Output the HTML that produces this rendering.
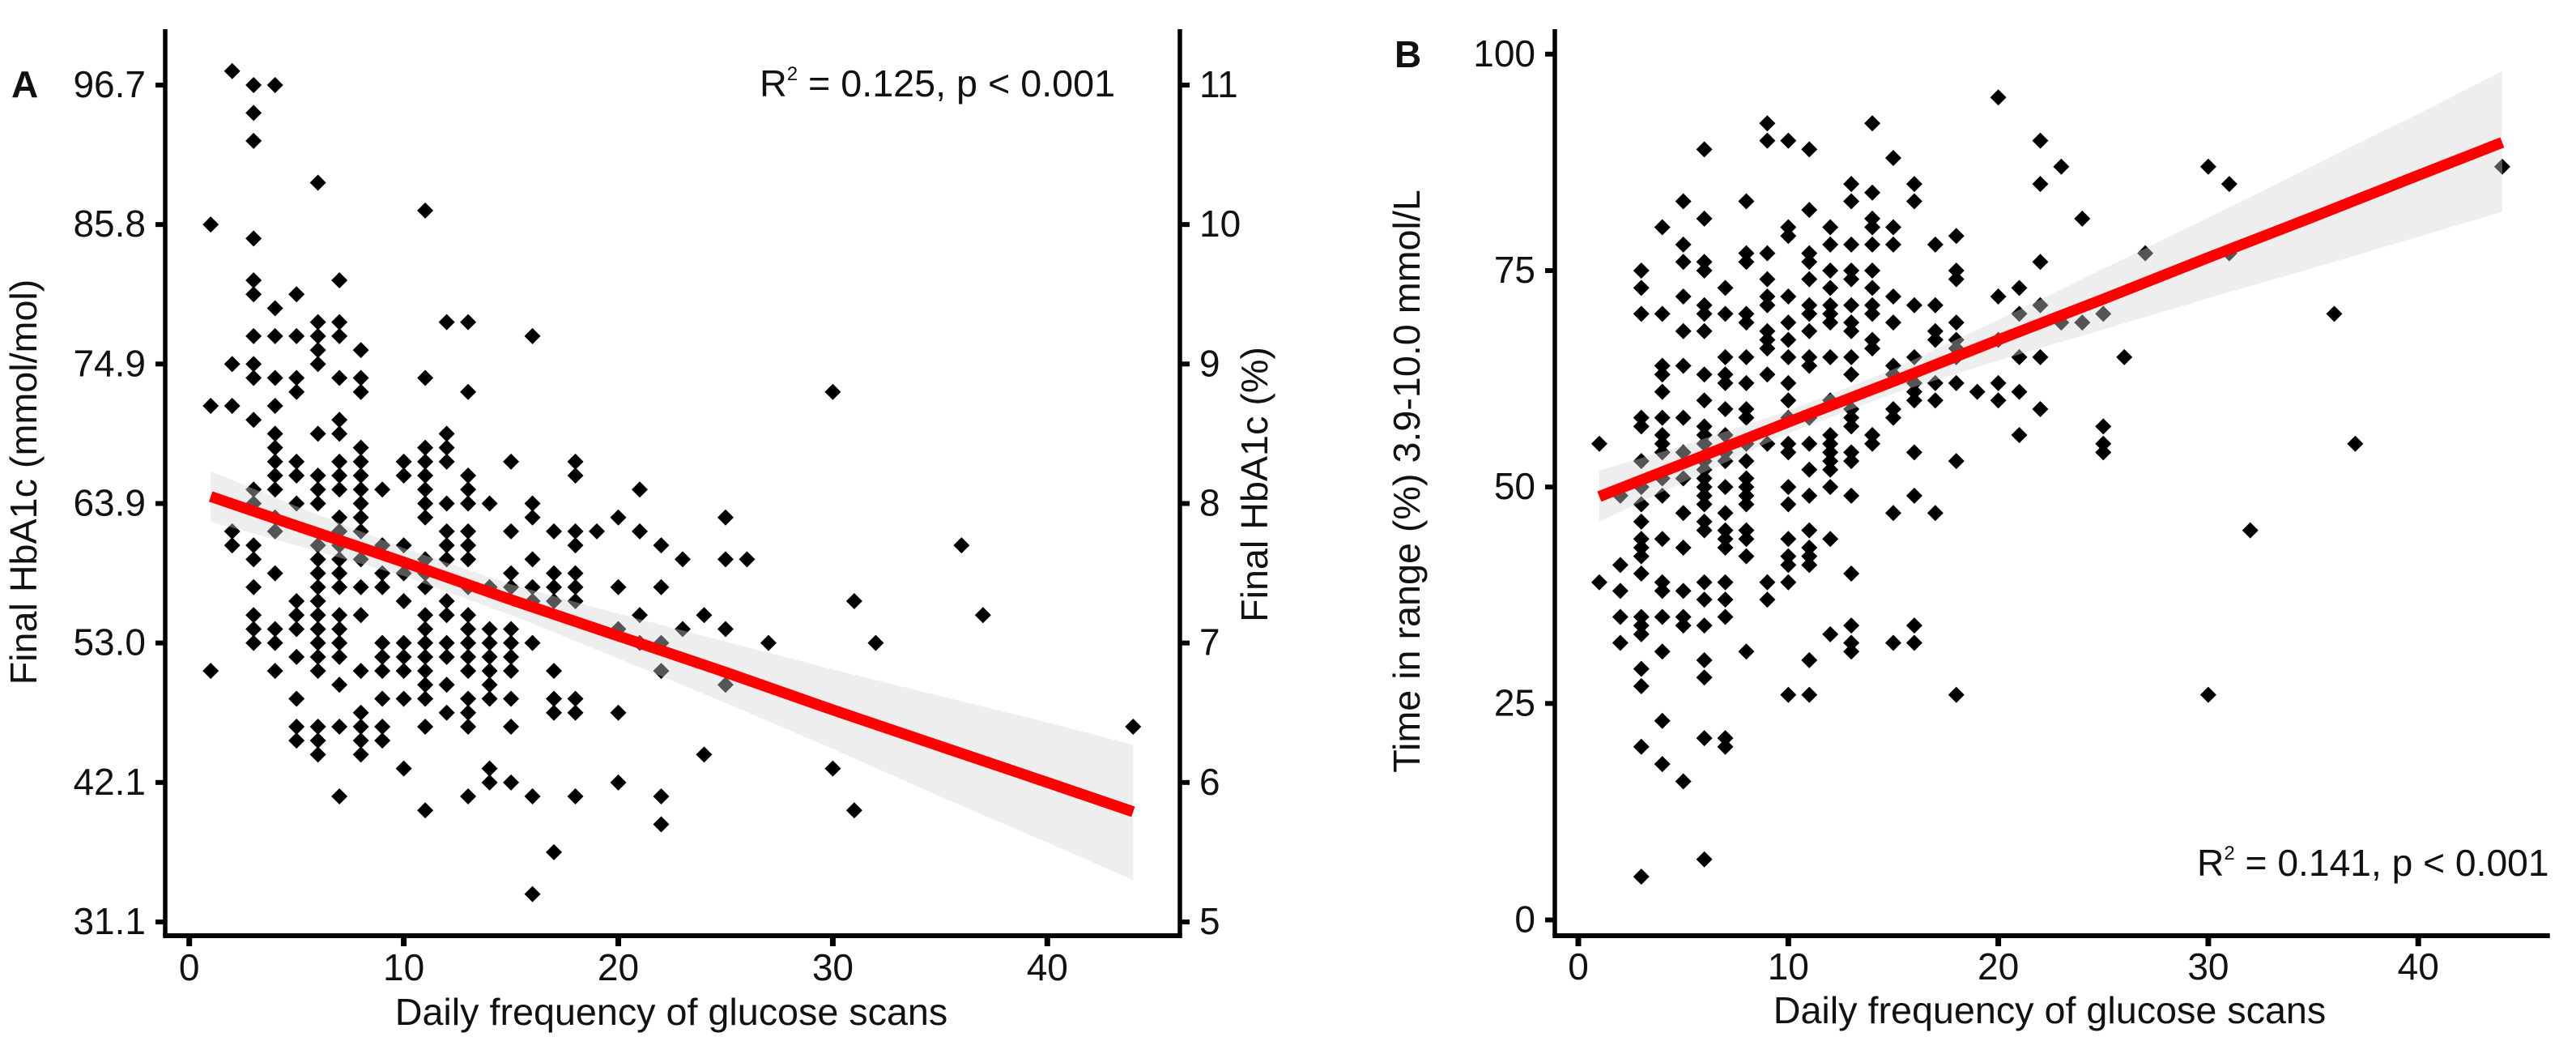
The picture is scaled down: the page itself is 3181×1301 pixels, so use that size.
<!DOCTYPE html>
<html lang="en">
<head>
<meta charset="utf-8">
<title>Scan frequency versus HbA1c and time in range</title>
<style>
html,body{margin:0;padding:0;background:#fff;}
svg{display:block;}
text{font-family:"Liberation Sans",Arial,sans-serif;fill:#111;font-size:46px;}
.title{font-size:46.7px;}
.tag{font-weight:bold;font-size:46px;}
</style>
</head>
<body>
<svg id="chart" xmlns="http://www.w3.org/2000/svg" width="3181" height="1301" viewBox="0 0 3181 1301">
  <rect x="0" y="0" width="3181" height="1301" fill="#fff"/>
  <g id="panelA"></g>
  <g id="panelB"></g>

  <text class="tag" x="14" y="120">A</text>
  <text class="tag" x="1722" y="83">B</text>

  <text class="title" x="829" y="1265" text-anchor="middle">Daily frequency of glucose scans</text>
  <text class="title" x="2531" y="1263" text-anchor="middle">Daily frequency of glucose scans</text>
  <text class="title" transform="translate(45 595) rotate(-90)" text-anchor="middle">Final HbA1c (mmol/mol)</text>
  <text class="title" transform="translate(1565 598) rotate(-90)" text-anchor="middle">Final HbA1c (%)</text>
  <text class="title" transform="translate(1753 594) rotate(-90)" text-anchor="middle">Time in range (%) 3.9-10.0 mmol/L</text>

  <text x="938" y="119" style="font-size:46.7px">R<tspan style="font-size:24px" dy="-20">2</tspan><tspan dy="20"> = 0.125, p &lt; 0.001</tspan></text>
  <text x="2713" y="1081" style="font-size:46.2px">R<tspan style="font-size:24px" dy="-20">2</tspan><tspan dy="20"> = 0.141, p &lt; 0.001</tspan></text>
</svg>

<script>
// ---------- Shared x ticks ----------
const xTicks = [0, 10, 20, 30, 40];

// ---------- Panel A data ----------
const leftTickLabelsA = ['31.1', '42.1', '53.0', '63.9', '74.9', '85.8', '96.7'];
const percentTicksA = [5, 6, 7, 8, 9, 10, 11];
const pointsA = [
[2,11.1],[3,11],[4,11],[3,10.8],[3,10.6],[6,10.3],[11,10.1],[1,10],[3,9.9],
[3,9.6],[7,9.6],[3,9.5],[5,9.5],[4,9.4],
[6,9.3],[7,9.3],[12,9.3],[13,9.3],
[3,9.2],[4,9.2],[5,9.2],[6,9.2],[7,9.2],[16,9.2],
[6,9.1],[8,9.1],[2,9],[3,9],[6,9],
[3,8.9],[4,8.9],[5,8.9],[7,8.9],[8,8.9],[11,8.9],
[5,8.8],[8,8.8],[13,8.8],[30,8.8],
[1,8.7],[2,8.7],[4,8.7],[3,8.6],[7,8.6],
[4,8.5],[6,8.5],[7,8.5],[12,8.5],
[4,8.4],[8,8.4],[11,8.4],[12,8.4],
[4,8.3],[5,8.3],[7,8.3],[8,8.3],[10,8.3],[11,8.3],[12,8.3],[15,8.3],[18,8.3],
[4,8.2],[5,8.2],[6,8.2],[7,8.2],[8,8.2],[10,8.2],[11,8.2],[13,8.2],[18,8.2],
[3,8.1],[4,8.1],[6,8.1],[7,8.1],[8,8.1],[9,8.1],[11,8.1],[13,8.1],[21,8.1],
[3,8],[5,8],[6,8],[8,8],[11,8],[12,8],[13,8],[14,8],[16,8],
[4,7.9],[7,7.9],[8,7.9],[11,7.9],[16,7.9],[20,7.9],[25,7.9],
[2,7.8],[4,7.8],[7,7.8],[8,7.8],[12,7.8],[13,7.8],[15,7.8],[17,7.8],[18,7.8],[19,7.8],[21,7.8],
[2,7.7],[3,7.7],[6,7.7],[7,7.7],[9,7.7],[10,7.7],[12,7.7],[13,7.7],[18,7.7],[22,7.7],[36,7.7],
[3,7.6],[6,7.6],[7,7.6],[8,7.6],[11,7.6],[12,7.6],[13,7.6],[16,7.6],[23,7.6],[25,7.6],[26,7.6],
[4,7.5],[6,7.5],[7,7.5],[9,7.5],[10,7.5],[11,7.5],[15,7.5],[17,7.5],[18,7.5],
[3,7.4],[6,7.4],[7,7.4],[8,7.4],[9,7.4],[11,7.4],[13,7.4],[14,7.4],[15,7.4],[16,7.4],[17,7.4],[18,7.4],[20,7.4],[22,7.4],
[5,7.3],[6,7.3],[10,7.3],[12,7.3],[16,7.3],[17,7.3],[18,7.3],[31,7.3],
[3,7.2],[5,7.2],[6,7.2],[7,7.2],[8,7.2],[11,7.2],[12,7.2],[13,7.2],[21,7.2],[24,7.2],[37,7.2],
[3,7.1],[4,7.1],[5,7.1],[6,7.1],[7,7.1],[11,7.1],[13,7.1],[14,7.1],[15,7.1],[20,7.1],[23,7.1],[25,7.1],
[3,7],[4,7],[6,7],[7,7],[9,7],[10,7],[11,7],[12,7],[13,7],[14,7],[15,7],[16,7],[21,7],[22,7],[27,7],[32,7],
[5,6.9],[6,6.9],[7,6.9],[9,6.9],[10,6.9],[11,6.9],[12,6.9],[13,6.9],[14,6.9],[15,6.9],
[1,6.8],[4,6.8],[6,6.8],[8,6.8],[9,6.8],[10,6.8],[11,6.8],[13,6.8],[14,6.8],[15,6.8],[17,6.8],[22,6.8],
[7,6.7],[11,6.7],[12,6.7],[14,6.7],[25,6.7],
[5,6.6],[9,6.6],[10,6.6],[11,6.6],[13,6.6],[14,6.6],[15,6.6],[17,6.6],[18,6.6],
[8,6.5],[12,6.5],[13,6.5],[17,6.5],[18,6.5],[20,6.5],
[5,6.4],[6,6.4],[7,6.4],[8,6.4],[9,6.4],[11,6.4],[13,6.4],[15,6.4],[44,6.4],
[5,6.3],[6,6.3],[8,6.3],[9,6.3],[6,6.2],[8,6.2],[24,6.2],
[10,6.1],[14,6.1],[30,6.1],[14,6],[15,6],[20,6],
[7,5.9],[13,5.9],[16,5.9],[18,5.9],[22,5.9],[11,5.8],[31,5.8],[22,5.7],[17,5.5],[16,5.2]
];
const fitXA = [1, 5, 10, 15, 20, 25, 30, 35, 40, 44];
const fitLineA = [8.05, 7.84, 7.58, 7.31, 7.05, 6.79, 6.52, 6.26, 6.00, 5.79];
const fitUpperA = [8.23, 7.98, 7.68, 7.42, 7.21, 7.01, 6.81, 6.62, 6.43, 6.27];
const fitLowerA = [7.87, 7.70, 7.48, 7.20, 6.89, 6.57, 6.24, 5.90, 5.57, 5.30];

// ---------- Panel B data ----------
const yTicksB = [0, 25, 50, 75, 100];
const pointsB = [
[20,95],[9,92],[14,92],[9,90],[10,90],[22,90],[6,89],[11,89],[15,88],[23,87],[30,87],[44,87],
[13,85],[16,85],[22,85],[31,85],[14,84],[5,83],[8,83],[13,83],[16,83],[11,82],
[6,81],[14,81],[24,81],[4,80],[10,80],[12,80],[14,80],[15,80],[10,79],[18,79],
[5,78],[12,78],[13,78],[14,78],[15,78],[17,78],[8,77],[9,77],[11,77],[27,77],[31,77],
[5,76],[6,76],[8,76],[11,76],[22,76],[3,75],[6,75],[12,75],[13,75],[14,75],[18,75],
[9,74],[11,74],[13,74],[18,74],[3,73],[7,73],[12,73],[14,73],[21,73],
[5,72],[9,72],[10,72],[15,72],[20,72],
[6,71],[9,71],[11,71],[12,71],[13,71],[14,71],[16,71],[17,71],[22,71],
[3,70],[4,70],[6,70],[7,70],[8,70],[11,70],[12,70],[14,70],[21,70],[25,70],[36,70],
[8,69],[10,69],[12,69],[13,69],[15,69],[18,69],[23,69],[24,69],
[5,68],[6,68],[9,68],[11,68],[13,68],[17,68],
[9,67],[10,67],[14,67],[17,67],[18,67],[20,67],[9,66],[14,66],[18,66],
[7,65],[8,65],[10,65],[11,65],[12,65],[13,65],[16,65],[18,65],[21,65],[22,65],[26,65],
[4,64],[5,64],[11,64],[15,64],[4,63],[6,63],[7,63],[9,63],[13,63],[15,63],
[7,62],[8,62],[10,62],[16,62],[17,62],[18,62],[20,62],[4,61],[16,61],[19,61],[21,61],
[6,60],[10,60],[12,60],[16,60],[17,60],[20,60],[7,59],[8,59],[13,59],[15,59],[22,59],
[3,58],[4,58],[5,58],[8,58],[10,58],[11,58],[13,58],[15,58],[3,57],[6,57],[13,57],[25,57],
[4,56],[6,56],[7,56],[12,56],[14,56],[21,56],
[1,55],[4,55],[6,55],[8,55],[9,55],[10,55],[11,55],[12,55],[14,55],[25,55],[37,55],
[4,54],[5,54],[7,54],[10,54],[12,54],[13,54],[16,54],[25,54],
[3,53],[6,53],[7,53],[8,53],[12,53],[13,53],[18,53],[6,52],[11,52],[12,52],
[4,51],[5,51],[6,51],[8,51],[3,50],[6,50],[7,50],[8,50],[10,50],[12,50],
[2,49],[4,49],[6,49],[8,49],[11,49],[13,49],[16,49],[3,48],[6,48],[8,48],[10,48],
[5,47],[7,47],[15,47],[17,47],[3,46],[6,46],[6,45],[7,45],[8,45],[11,45],[32,45],
[3,44],[4,44],[7,44],[8,44],[10,44],[12,44],[3,43],[5,43],[7,43],[11,43],
[3,42],[8,42],[10,42],[11,42],[2,41],[10,41],[11,41],[3,40],[13,40],
[1,39],[4,39],[6,39],[7,39],[9,39],[10,39],[2,38],[4,38],[5,38],[6,37],[7,37],[9,37],
[2,35],[3,35],[4,35],[5,35],[7,35],[3,34],[5,34],[6,34],[13,34],[16,34],[3,33],[12,33],
[2,32],[13,32],[15,32],[16,32],[4,31],[8,31],[13,31],[6,30],[11,30],[3,29],[6,28],[3,27],
[10,26],[11,26],[18,26],[30,26],[4,23],[6,21],[7,21],[3,20],[7,20],[4,18],[5,16],[6,7],[3,5]
];
const fitXB = [1, 5, 10, 15, 20, 25, 30, 35, 40, 44];
const fitLineB = [48.9, 52.7, 57.5, 62.2, 67.0, 71.7, 76.5, 81.2, 86.0, 89.8];
const fitUpperB = [51.9, 54.8, 58.8, 63.6, 69.3, 75.2, 81.1, 87.1, 93.1, 98.0];
const fitLowerB = [46.0, 50.6, 56.2, 60.8, 64.6, 68.2, 71.8, 75.3, 78.9, 81.8];

// ---------- Axis functions ----------
const xA = v => 233.7 + v * 26.49;
const yA = v => 1138 - (v - 5) * 172.17;
const xB = v => 1949 + v * 25.93;
const yB = v => 1135.5 - v * 10.687;

// ---------- Layout constants ----------
const AXIS_TOP = 36;
const AXIS_BOTTOM = 1155;
const AXIS_W = 5.5;
const TICK_LEN = 13;
const POINT_R = 10;
const NS = 'http://www.w3.org/2000/svg';

function make(tag, parent, attrs) {
  const el = document.createElementNS(NS, tag);
  for (const k in attrs) el.setAttribute(k, attrs[k]);
  parent.appendChild(el);
  return el;
}

function drawLine(parent, name, x1, y1, x2, y2, w) {
  const el = make('line', parent, {x1: x1, y1: y1, x2: x2, y2: y2, stroke: '#000', 'stroke-width': w});
  
  
}

function drawLabel(parent, name, str, x, y, anchor) {
  const el = make('text', parent, {x: x, y: y, 'text-anchor': anchor});
  
  
  el.textContent = str;
}

function drawPoints(parent, pts, sx, sy) {
  const g = make('g', parent, {fill: '#000'});
  
  
  pts.forEach(p => {
    const cx = sx(p[0]), cy = sy(p[1]);
    const d = make('polygon', g, {points: cx + ',' + (cy - POINT_R) + ' ' + (cx + POINT_R) + ',' + cy + ' ' + cx + ',' + (cy + POINT_R) + ' ' + (cx - POINT_R) + ',' + cy});
    
    
  });
}

function drawFit(parent, fx, line, upper, lower, sx, sy) {
  const top = fx.map((x, i) => sx(x) + ',' + sy(upper[i]));
  const bottom = fx.map((x, i) => sx(x) + ',' + sy(lower[i])).reverse();
  const band = make('polygon', parent, {points: top.concat(bottom).join(' '), fill: 'rgb(212,212,212)', 'fill-opacity': 0.4});
  
  
  const trend = make('polyline', parent, {points: fx.map((x, i) => sx(x) + ',' + sy(line[i])).join(' '), fill: 'none', stroke: '#ff0000', 'stroke-width': 13.5});
  
  
}

function drawXAxis(parent, left, right, sx, labelY) {
  drawLine(parent, 'x-axis-line', left - AXIS_W / 2, AXIS_BOTTOM, right + AXIS_W / 2, AXIS_BOTTOM, AXIS_W + 0.5);
  xTicks.forEach(t => {
    drawLine(parent, 'x-axis-tick', sx(t), AXIS_BOTTOM, sx(t), AXIS_BOTTOM + TICK_LEN, 7);
    drawLabel(parent, 'x-axis-tick-label', String(t), sx(t), labelY, 'middle');
  });
}

// ---------- Panel A ----------
const panelA = document.getElementById('panelA');
drawPoints(panelA, pointsA, xA, yA);
drawFit(panelA, fitXA, fitLineA, fitUpperA, fitLowerA, xA, yA);
drawLine(panelA, 'left-y-axis-line', 204, AXIS_TOP, 204, AXIS_BOTTOM, AXIS_W);
drawLine(panelA, 'right-y-axis-line', 1457, AXIS_TOP, 1457, AXIS_BOTTOM, AXIS_W);
drawXAxis(panelA, 204, 1457, xA, 1210);
percentTicksA.forEach((t, i) => {
  drawLine(panelA, 'left-y-axis-tick', 192, yA(t), 204, yA(t), 6);
  drawLabel(panelA, 'left-y-axis-tick-label', leftTickLabelsA[i], 180, yA(t) + 15, 'end');
  drawLine(panelA, 'right-y-axis-tick', 1457, yA(t), 1469, yA(t), 6);
  drawLabel(panelA, 'right-y-axis-tick-label', String(t), 1481, yA(t) + 15, 'start');
});

// ---------- Panel B ----------
const panelB = document.getElementById('panelB');
drawPoints(panelB, pointsB, xB, yB);
drawFit(panelB, fitXB, fitLineB, fitUpperB, fitLowerB, xB, yB);
drawLine(panelB, 'y-axis-line', 1920, AXIS_TOP, 1920, AXIS_BOTTOM, AXIS_W);
drawXAxis(panelB, 1920, 3146, xB, 1209);
yTicksB.forEach(t => {
  drawLine(panelB, 'y-axis-tick', 1908, yB(t), 1920, yB(t), 6);
  drawLabel(panelB, 'y-axis-tick-label', String(t), 1896, yB(t) + 15, 'end');
});
</script>
</body>
</html>
